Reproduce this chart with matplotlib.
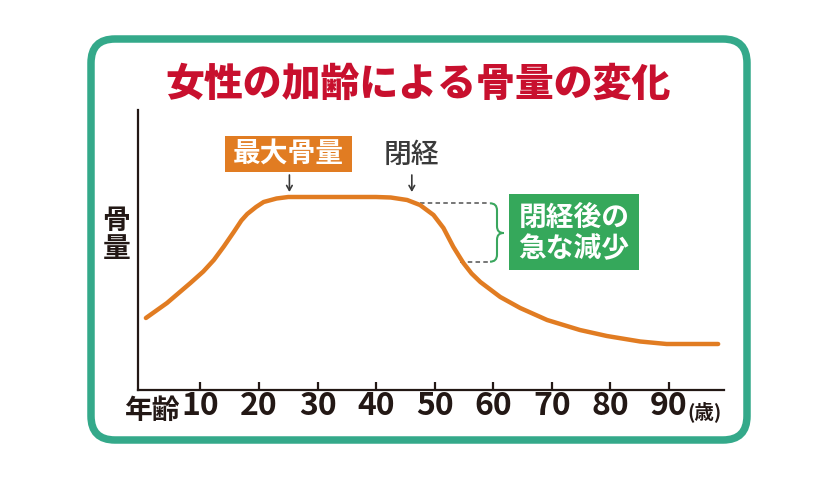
import matplotlib
matplotlib.use("Agg")
import matplotlib.pyplot as plt
from matplotlib.patches import FancyBboxPatch, Rectangle, PathPatch
from matplotlib.path import Path

plt.rcParams['font.family'] = ['Noto Sans CJK JP', 'DejaVu Sans']

# age (years) and relative bone mass
age = [0.7, 4.3, 8.3, 10.5, 12.3, 14.0, 15.7, 17.0, 18.0, 19.5, 20.8, 23.0, 25.0,
       30, 35, 40, 42.5, 45.3, 47.5, 49.8, 51.5, 53.2, 54.9, 56.3, 57.8, 61.2,
       64.6, 69.2, 74.8, 79.4, 85.1, 89.6, 98.4]
bone_mass = [72, 87, 107, 118.5, 130, 143.5, 158, 169.5, 176, 183, 188, 191.5, 193,
             193, 193, 193, 192.5, 190, 185, 175, 162, 143, 127, 116.5, 108, 93,
             82, 70, 60, 54, 48.5, 46, 46]

tick_ages = [10, 20, 30, 40, 50, 60, 70, 80, 90]
tick_labels = [str(a) for a in tick_ages]

title = "女性の加齢による骨量の変化"
peak_label = "最大骨量"
peak_age = 25.2
meno_label = "閉経"
meno_age = 46.1
drop_label = "閉経後の\n急な減少"
drop_top, drop_bottom = 186.7, 128.3

ORANGE = "#e17c22"
GREEN = "#35a85b"
TEAL = "#34a98a"
RED = "#c8102e"
INK = "#231815"
GREY = "#3a3a3a"

fig = plt.figure(figsize=(8.4, 4.8), dpi=100)
T = fig.dpi_scale_trans


def P(x, y):
    # pixel position (from top-left) -> inches for dpi_scale_trans
    return x / 100, (480 - y) / 100


# frame
x0, y0 = P(91, 440)
fig.patches.append(FancyBboxPatch((x0, y0), 6.56, 4.01,
                                  boxstyle="round,pad=0,rounding_size=0.24",
                                  fc="white", ec=TEAL, lw=5.4, transform=T,
                                  zorder=-1))

ax = fig.add_axes([138.3 / 840, 90 / 480, (724 - 138.3) / 840, 280 / 480])
ax.set_facecolor("none")
ax.set_xlim(-0.6, 99.4)
ax.set_ylim(0, 280)
for s in ["top", "right"]:
    ax.spines[s].set_visible(False)
for s in ["left", "bottom"]:
    ax.spines[s].set_color(INK)
    ax.spines[s].set_linewidth(1.6)
ax.set_yticks([])
ax.set_xticks(tick_ages)
ax.set_xticklabels(tick_labels, fontweight="bold", fontsize=23, color=INK)
ax.tick_params(axis="x", direction="in", length=6, width=1.6, color=INK, pad=0)

ax.plot(age, bone_mass, color=ORANGE, lw=3.2, solid_capstyle="round",
        solid_joinstyle="round", zorder=3)

# arrows
for a in [peak_age, meno_age]:
    ax.annotate("", xy=(a, 198), xytext=(a, 215),
                arrowprops=dict(arrowstyle="->,head_length=0.35,head_width=0.2",
                                color=GREY, lw=1.2, shrinkA=0, shrinkB=0))

# dashed guides
ax.plot([47.5, 59.5], [drop_top, drop_top], ls=(0, (2.5, 1.8)), color="#6b6b6b", lw=1.3)
ax.plot([54.4, 59.5], [drop_bottom, drop_bottom], ls=(0, (2.5, 1.8)), color="#6b6b6b", lw=1.3)

# brace
verts = [P(490, 203.3), P(497, 203.3), P(497, 210.3), P(497, 226.3),
         P(497, 233), P(503.5, 233), P(497, 233), P(497, 239.7),
         P(497, 254.7), P(497, 261.7), P(490, 261.7)]
codes = [Path.MOVETO, Path.CURVE3, Path.CURVE3, Path.LINETO,
         Path.CURVE3, Path.CURVE3, Path.CURVE3, Path.CURVE3,
         Path.LINETO, Path.CURVE3, Path.CURVE3]
fig.patches.append(PathPatch(Path(verts, codes), fc="none", ec="#3aa65e", lw=1.5,
                             transform=T))

# boxes
bx, by = P(225, 172)
fig.patches.append(Rectangle((bx, by), 1.27, 0.36, fc=ORANGE, ec="none", transform=T))
gx, gy = P(509, 270)
fig.patches.append(Rectangle((gx, gy), 1.30, 0.76, fc=GREEN, ec="none", transform=T))

fig.text(*P(288.5, 154), peak_label, transform=T, ha="center", va="center",
         fontsize=20, fontweight="bold", color="white")
fig.text(*P(411.5, 154), meno_label, transform=T, ha="center", va="center",
         fontsize=20, fontweight="medium", color=GREY)
fig.text(*P(574, 234), drop_label, transform=T, ha="center", va="center",
         fontsize=20, fontweight="bold", color="white", linespacing=1.15)

# title and axis words
fig.text(*P(418, 84), title, transform=T, ha="center", va="center",
         fontsize=28, fontweight="heavy", color=RED)
fig.text(*P(116.5, 235), "骨\n量", transform=T, ha="center", va="center",
         fontsize=20, fontweight="bold", color=INK, linespacing=1.0)
fig.text(*P(152.5, 411), "年齢", transform=T, ha="center", va="center",
         fontsize=20, fontweight="bold", color=INK)
fig.text(*P(687, 412), "(歳)", transform=T, ha="left", va="center",
         fontsize=14, fontweight="bold", color=INK)

fig.savefig("out.png", dpi=100)
